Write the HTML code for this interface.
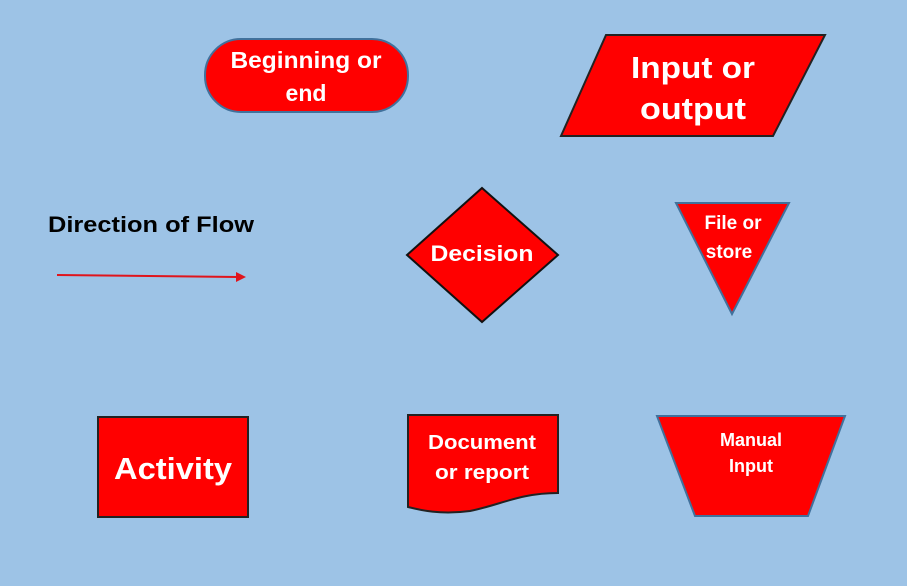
<!DOCTYPE html>
<html><head><style>
html,body{margin:0;padding:0;background:#9dc3e6;overflow:hidden;width:907px;height:586px;}
svg{display:block;}
svg text{font-family:"Liberation Sans",sans-serif;font-weight:bold;}
</style></head><body>
<svg width="907" height="586" viewBox="0 0 907 586" xmlns="http://www.w3.org/2000/svg">
<rect width="907" height="586" fill="#9dc3e6"/>
<rect x="205" y="39" width="203" height="73" rx="36" fill="#ff0000" stroke="#41719c" stroke-width="2"/>
<text x="306" y="68" font-size="23" fill="#fff" text-anchor="middle" textLength="151" lengthAdjust="spacingAndGlyphs">Beginning or</text>
<text x="306" y="101" font-size="23" fill="#fff" text-anchor="middle">end</text>
<polygon points="606,35 825,35 773,136 561,136" fill="#ff0000" stroke="#222" stroke-width="2"/>
<text x="693" y="78" font-size="31" fill="#fff" text-anchor="middle" textLength="124" lengthAdjust="spacingAndGlyphs">Input or</text>
<text x="693" y="119" font-size="31" fill="#fff" text-anchor="middle" textLength="106" lengthAdjust="spacingAndGlyphs">output</text>
<text x="48" y="232" font-size="22" fill="#000" textLength="206" lengthAdjust="spacingAndGlyphs">Direction of Flow</text>
<line x1="57" y1="275" x2="238" y2="277" stroke="#e0141c" stroke-width="2"/>
<polygon points="236,272 246,277 236,282" fill="#e0141c"/>
<polygon points="482,188 558,255 482,322 407,255" fill="#ff0000" stroke="#111" stroke-width="2"/>
<text x="482" y="261" font-size="22" fill="#fff" text-anchor="middle" textLength="103" lengthAdjust="spacingAndGlyphs">Decision</text>
<polygon points="676,203 789,203 732,314" fill="#ff0000" stroke="#41719c" stroke-width="2"/>
<text x="733" y="229" font-size="19" fill="#fff" text-anchor="middle">File or</text>
<text x="729" y="258" font-size="19" fill="#fff" text-anchor="middle">store</text>
<rect x="98" y="417" width="150" height="100" fill="#ff0000" stroke="#222" stroke-width="2"/>
<text x="173" y="479" font-size="31" fill="#fff" text-anchor="middle" textLength="118" lengthAdjust="spacingAndGlyphs">Activity</text>
<path d="M408,415 L558,415 L558,493 C520,493 500,505 470,511 C440,515 420,510 408,507 Z" fill="#ff0000" stroke="#222" stroke-width="2"/>
<text x="482" y="449" font-size="20" fill="#fff" text-anchor="middle" textLength="108" lengthAdjust="spacingAndGlyphs">Document</text>
<text x="482" y="479" font-size="20" fill="#fff" text-anchor="middle" textLength="94" lengthAdjust="spacingAndGlyphs">or report</text>
<polygon points="657,416 845,416 808,516 695,516" fill="#ff0000" stroke="#41719c" stroke-width="2"/>
<text x="751" y="446" font-size="18" fill="#fff" text-anchor="middle">Manual</text>
<text x="751" y="472" font-size="18" fill="#fff" text-anchor="middle">Input</text>
</svg>
</body></html>
